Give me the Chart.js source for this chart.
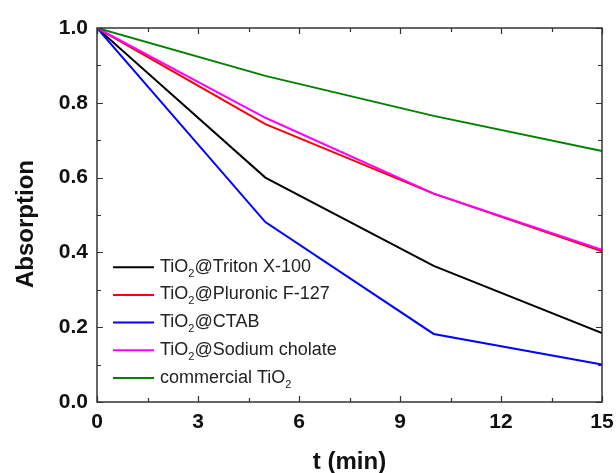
<!DOCTYPE html>
<html>
<head>
<meta charset="utf-8">
<script src="https://cdn.jsdelivr.net/npm/chart.js@4/dist/chart.umd.min.js"></script>
<style>
  html, body { margin: 0; padding: 0; background: #fff; }
  canvas { display: block; }
</style>
</head>
<body>
<canvas id="c" width="616" height="473"></canvas>
<script>
// Sampling times (min)
const times = [0, 5, 10, 15];

// Normalised absorption of each photocatalyst
const triton     = [1.0, 0.600, 0.364, 0.184];
const pluronic   = [1.0, 0.743, 0.557, 0.403];
const ctab       = [1.0, 0.481, 0.182, 0.100];
const cholate    = [1.0, 0.760, 0.557, 0.407];
const commercial = [1.0, 0.872, 0.765, 0.671];

const seriesLabels = [
  'TiO₂@Triton X-100',
  'TiO₂@Pluronic F-127',
  'TiO₂@CTAB',
  'TiO₂@Sodium cholate',
  'commercial TiO₂'
];
const seriesColors = ['#000000', '#ff0000', '#0000ff', '#ff00ff', '#008000'];
const seriesValues = [triton, pluronic, ctab, cholate, commercial];

const xTicks = [0, 3, 6, 9, 12, 15];
const yTicks = [0.0, 0.2, 0.4, 0.6, 0.8, 1.0];
const xTitle = 't (min)';
const yTitle = 'Absorption';

const FONT = '"Liberation Sans", Arial, Helvetica, sans-serif';
const FRAME = '#333333';

const datasets = seriesValues.map((vals, i) => ({
  label: seriesLabels[i],
  data: times.map((t, k) => ({ x: t, y: vals[k] })),
  borderColor: seriesColors[i],
  backgroundColor: seriesColors[i],
  borderWidth: 2,
  pointRadius: 0,
  tension: 0,
  fill: false,
  // later series are painted over earlier ones
  order: seriesValues.length - i
}));

// Box frame with inward major and minor ticks on all four sides
const framePlugin = {
  id: 'frame',
  afterDatasetsDraw(chart) {
    const { ctx, chartArea: a, scales: { x, y } } = chart;
    ctx.save();
    ctx.strokeStyle = FRAME;
    ctx.lineWidth = 1.5;
    ctx.strokeRect(a.left, a.top, a.right - a.left, a.bottom - a.top);
    const major = 6, minor = 4;
    ctx.lineWidth = 1.2;
    ctx.beginPath();
    const xStep = xTicks[1] - xTicks[0];
    for (let v = xTicks[0]; v <= xTicks[xTicks.length - 1] + 1e-9; v += xStep / 2) {
      const isMajor = Math.abs(v / xStep - Math.round(v / xStep)) < 1e-6;
      const len = isMajor ? major : minor;
      const px = Math.round(x.getPixelForValue(v)) + 0.5;
      ctx.moveTo(px, a.bottom); ctx.lineTo(px, a.bottom - len);
      ctx.moveTo(px, a.top); ctx.lineTo(px, a.top + len);
    }
    const yStep = yTicks[1] - yTicks[0];
    for (let v = yTicks[0]; v <= yTicks[yTicks.length - 1] + 1e-9; v += yStep / 2) {
      const isMajor = Math.abs(v / yStep - Math.round(v / yStep)) < 1e-6;
      const len = isMajor ? major : minor;
      const py = Math.round(y.getPixelForValue(v)) + 0.5;
      ctx.moveTo(a.left, py); ctx.lineTo(a.left + len, py);
      ctx.moveTo(a.right, py); ctx.lineTo(a.right - len, py);
    }
    ctx.stroke();
    ctx.restore();
  }
};

// Draws text where "₂" is set as a lowered, smaller "2"
function drawSubText(ctx, text, x, baseline, size) {
  const parts = text.split('₂');
  let cx = x;
  parts.forEach((p, i) => {
    ctx.font = size + 'px ' + FONT;
    ctx.fillText(p, cx, baseline);
    cx += ctx.measureText(p).width;
    if (i < parts.length - 1) {
      const s = Math.round(size * 0.62);
      ctx.font = s + 'px ' + FONT;
      ctx.fillText('2', cx, baseline + size * 0.28);
      cx += ctx.measureText('2').width;
    }
  });
}

// Legend in the lower-left corner of the plot
const legendPlugin = {
  id: 'innerLegend',
  afterDraw(chart) {
    const { ctx, chartArea: a } = chart;
    const rowH = 27.7;
    const n = chart.data.datasets.length;
    const x0 = a.left + 16, x1 = x0 + 41, tx = x1 + 6;
    const lastY = a.bottom - 24;
    ctx.save();
    ctx.textBaseline = 'alphabetic';
    ctx.textAlign = 'left';
    chart.data.datasets.forEach((ds, i) => {
      const yy = lastY - (n - 1 - i) * rowH;
      ctx.strokeStyle = ds.borderColor;
      ctx.lineWidth = 2;
      ctx.beginPath();
      ctx.moveTo(x0, yy); ctx.lineTo(x1, yy);
      ctx.stroke();
      ctx.fillStyle = '#222222';
      drawSubText(ctx, ds.label, tx, yy + 4.5, 18);
    });
    ctx.restore();
  }
};

// Axis titles
const titlePlugin = {
  id: 'axisTitles',
  afterDraw(chart) {
    const { ctx, chartArea: a } = chart;
    ctx.save();
    ctx.fillStyle = '#111111';
    ctx.font = 'bold 24px ' + FONT;
    ctx.textAlign = 'center';
    ctx.textBaseline = 'alphabetic';
    ctx.fillText(xTitle, (a.left + a.right) / 2, chart.height - 4);
    ctx.translate(33, (a.top + a.bottom) / 2 + 9);
    ctx.rotate(-Math.PI / 2);
    ctx.fillText(yTitle, 0, 0);
    ctx.restore();
  }
};

new Chart(document.getElementById('c'), {
  type: 'line',
  data: { datasets },
  options: {
    responsive: false,
    devicePixelRatio: 1,
    animation: false,
    layout: { padding: { left: 0, top: 28, right: 14, bottom: 0 } },
    plugins: { legend: { display: false }, tooltip: { enabled: false } },
    scales: {
      x: {
        type: 'linear',
        min: xTicks[0],
        max: xTicks[xTicks.length - 1],
        grid: { display: false, drawTicks: false },
        border: { display: false },
        afterBuildTicks(scale) { scale.ticks = xTicks.map(v => ({ value: v })); },
        ticks: {
          padding: 8,
          color: '#111111',
          font: { family: FONT, size: 21, weight: 'bold' },
          callback: v => String(v)
        },
        afterFit(scale) { scale.height = 71; scale.paddingLeft = 0; scale.paddingRight = 0; }
      },
      y: {
        type: 'linear',
        min: yTicks[0],
        max: yTicks[yTicks.length - 1],
        grid: { display: false, drawTicks: false },
        border: { display: false },
        afterBuildTicks(scale) { scale.ticks = yTicks.map(v => ({ value: v })); },
        ticks: {
          padding: 9,
          color: '#111111',
          font: { family: FONT, size: 21, weight: 'bold' },
          callback: v => Number(v).toFixed(1)
        },
        afterFit(scale) { scale.width = 97; scale.paddingTop = 0; scale.paddingBottom = 0; }
      }
    }
  },
  plugins: [framePlugin, legendPlugin, titlePlugin]
});
</script>
</body>
</html>
